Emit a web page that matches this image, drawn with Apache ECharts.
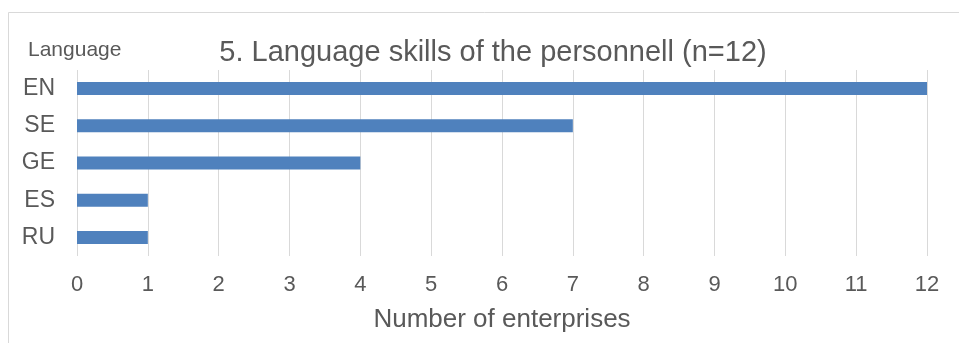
<!DOCTYPE html>
<html><head><meta charset="utf-8">
<script src="https://cdn.jsdelivr.net/npm/echarts@6/dist/echarts.min.js"></script>
<style>html,body{margin:0;padding:0;background:#fff}#c{width:959px;height:343px}</style>
</head><body><div id="c"></div>
<script>
const categories = ['EN','SE','GE','ES','RU'];
const values = [12, 7, 4, 1, 1];
const xTicks = [0,1,2,3,4,5,6,7,8,9,10,11,12];
const FONT = '"Liberation Sans", Arial, sans-serif';
const chart = echarts.init(document.getElementById('c'), null, {renderer:'canvas'});
chart.setOption({
  animation:false,
  backgroundColor:'#fff',
  textStyle:{fontFamily:FONT},
  graphic:[{type:'rect', shape:{x:8.5,y:12.5,width:1000,height:400}, style:{fill:null, stroke:'#D9D9D9', lineWidth:1}, silent:true}],
  title:{text:'5. Language skills of the personnell (n=12)', left:488, top:33, textAlign:'center',
    textStyle:{fontFamily:FONT, fontSize:29, fontWeight:'normal', color:'#595959'}},
  grid:{left:77, right:32, top:70, bottom:87, containLabel:false},
  xAxis:{type:'value', min:xTicks[0], max:xTicks[xTicks.length-1], interval:1,
    name:'Number of enterprises', nameLocation:'middle', nameGap:51,
    nameTextStyle:{fontFamily:FONT, fontSize:26, color:'#595959'},
    axisLine:{show:false}, axisTick:{show:false},
    axisLabel:{fontFamily:FONT, fontSize:22, color:'#595959', margin:18},
    splitLine:{show:true, lineStyle:{color:'#D9D9D9', width:1}}},
  yAxis:{type:'category', data:categories, inverse:true,
    name:'Language', nameLocation:'start', nameGap:20,
    nameTextStyle:{fontFamily:FONT, fontSize:21, color:'#595959', align:'left', verticalAlign:'middle', padding:[0,0,0,-49]},
    axisLine:{show:false}, axisTick:{show:false},
    axisLabel:{fontFamily:FONT, fontSize:23, color:'#595959', margin:22}},
  series:[{type:'bar', data:values, barWidth:13, itemStyle:{color:'#4F81BD'}}]
});
</script></body></html>
